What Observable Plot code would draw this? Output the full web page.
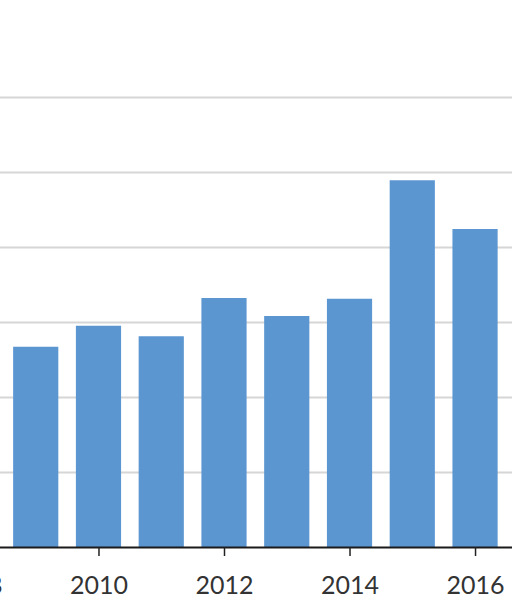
<!DOCTYPE html>
<html>
<head>
<meta charset="utf-8">
<script src="https://cdn.jsdelivr.net/npm/d3@7"></script>
<script src="https://cdn.jsdelivr.net/npm/@observablehq/plot@0.6"></script>
<style>
  html, body { margin: 0; padding: 0; background: #fff; }
  #chart svg { display: block; }
</style>
</head>
<body>
<div id="chart"></div>
<script>
const years = [2009, 2010, 2011, 2012, 2013, 2014, 2015, 2016];
const values = [2.67, 2.95, 2.81, 3.32, 3.08, 3.31, 4.89, 4.24];
const domainYears = [2008, 2009, 2010, 2011, 2012, 2013, 2014, 2015, 2016];
const xTicks = [2008, 2010, 2012, 2014, 2016];
const yTicks = [0, 1, 2, 3, 4, 5, 6];

const data = years.map((y, i) => ({year: y, value: values[i]}));

const chart = Plot.plot({
  width: 512,
  height: 614,
  marginTop: 97,
  marginBottom: 67,
  marginLeft: 0,
  marginRight: 0,
  style: {fontFamily: "Lato, 'Open Sans', sans-serif", background: "#fff"},
  x: {type: "band", domain: domainYears, range: [-67.2, 515.2], padding: 0.28, round: false, axis: null, label: null},
  y: {domain: [0, 6], axis: null, label: null},
  marks: [
    Plot.ruleY(yTicks.filter(d => d > 0), {stroke: "#d6d6d6", strokeWidth: 2}),
    Plot.barY(data, {x: "year", y: "value", fill: "#5b96d1"}),
    Plot.ruleY([0], {stroke: "#1a1a1a", strokeWidth: 2}),
    Plot.axisX({
      ticks: xTicks,
      tickSize: 9,
      tickPadding: 20,
      stroke: "#222",
      strokeWidth: 1.5,
      fill: "#333",
      fontSize: 25,
      label: null,
      tickFormat: d => String(d)
    })
  ]
});
document.getElementById("chart").appendChild(chart);
</script>
</body>
</html>
